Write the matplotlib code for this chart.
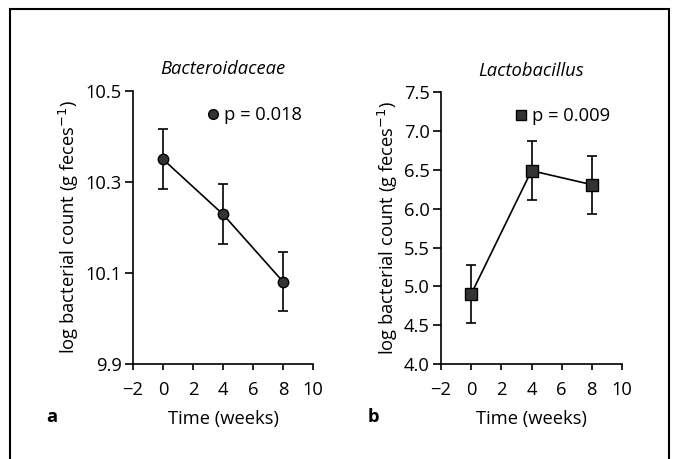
import matplotlib
matplotlib.use("Agg")
import matplotlib.pyplot as plt
from matplotlib.lines import Line2D
from matplotlib.patches import Rectangle

plt.rcParams['font.family'] = ['Open Sans', 'DejaVu Sans']

weeks = [0, 4, 8]
bact_mean = [10.35, 10.229, 10.081]
bact_err = [0.066, 0.066, 0.065]
lacto_mean = [4.90, 6.49, 6.31]
lacto_err = [0.37, 0.38, 0.375]

xticks = [-2, 0, 2, 4, 6, 8, 10]
bact_yticks = [9.9, 10.1, 10.3, 10.5]
lacto_yticks = [4.0, 4.5, 5.0, 5.5, 6.0, 6.5, 7.0, 7.5]

fs = 13.2
fig = plt.figure(figsize=(6.73, 4.59), dpi=100)
W, H = 673, 459

def ax_rect(l, r, t, b):
    return [l / W, 1 - b / H, (r - l) / W, (b - t) / H]

ax1 = fig.add_axes(ax_rect(133, 313, 91, 364))
ax2 = fig.add_axes(ax_rect(441, 622, 92.3, 364))

def style(ax):
    for s in ['top', 'right']:
        ax.spines[s].set_visible(False)
    for s in ['left', 'bottom']:
        ax.spines[s].set_linewidth(1.2)
    ax.tick_params(axis='y', direction='out', length=6, width=1.2, labelsize=fs, pad=2)
    ax.tick_params(axis='x', direction='out', length=4, width=1.2, labelsize=fs, pad=8)
    ax.set_xlim(-2, 10)
    ax.set_xticks(xticks)
    ax.set_xticklabels(['\u22122' if t < 0 else str(t) for t in xticks])
    ax.set_xlabel('Time (weeks)', fontsize=fs, labelpad=8)
    ax.set_ylabel('log bacterial count (g feces$^{\u22121}$)', fontsize=fs, labelpad=3)

mfc = '#333333'
ax1.errorbar(weeks, bact_mean, yerr=bact_err, fmt='-o', color='black', lw=1.2,
             ms=7.5, mfc=mfc, mec='black', capsize=3.5, elinewidth=1.2, capthick=1.2, clip_on=False)
style(ax1)
ax1.set_ylim(9.9, 10.5)
ax1.set_yticks(bact_yticks)
ax1.set_yticklabels([f'{v:.1f}' for v in bact_yticks])
ax1.set_title('Bacteroidaceae', fontsize=fs, style='italic', pad=12)
h1 = Line2D([], [], marker='o', ls='none', ms=7, mfc=mfc, mec='black')
ax1.legend([h1], ['p = 0.018'], loc='upper left', bbox_to_anchor=(0.33, 0.985),
           frameon=False, fontsize=fs, handletextpad=0.1, handlelength=1.0, borderaxespad=0.2)

ax2.errorbar(weeks, lacto_mean, yerr=lacto_err, fmt='-s', color='black', lw=1.2,
             ms=8, mfc=mfc, mec='black', capsize=3.5, elinewidth=1.2, capthick=1.2, clip_on=False)
style(ax2)
ax2.set_ylim(4.0, 7.5)
ax2.set_yticks(lacto_yticks)
ax2.set_yticklabels([f'{v:.1f}' for v in lacto_yticks])
ax2.set_title('Lactobacillus', fontsize=fs, style='italic', pad=12)
h2 = Line2D([], [], marker='s', ls='none', ms=6.5, mfc=mfc, mec='black')
ax2.legend([h2], ['p = 0.009'], loc='upper left', bbox_to_anchor=(0.33, 0.985),
           frameon=False, fontsize=fs, handletextpad=0.1, handlelength=1.0, borderaxespad=0.2)

fig.text(52 / W, 1 - 417 / H, 'a', fontsize=fs, fontweight='bold', ha='center', va='center')
fig.text(373 / W, 1 - 417 / H, 'b', fontsize=fs, fontweight='bold', ha='center', va='center')

fig.patches.append(Rectangle((10 / W, -0.02), (669 - 10) / W, 1 - 9 / H + 0.02,
                             transform=fig.transFigure, fill=False, lw=1.5, ec='black'))

fig.savefig('out.png', dpi=100)
